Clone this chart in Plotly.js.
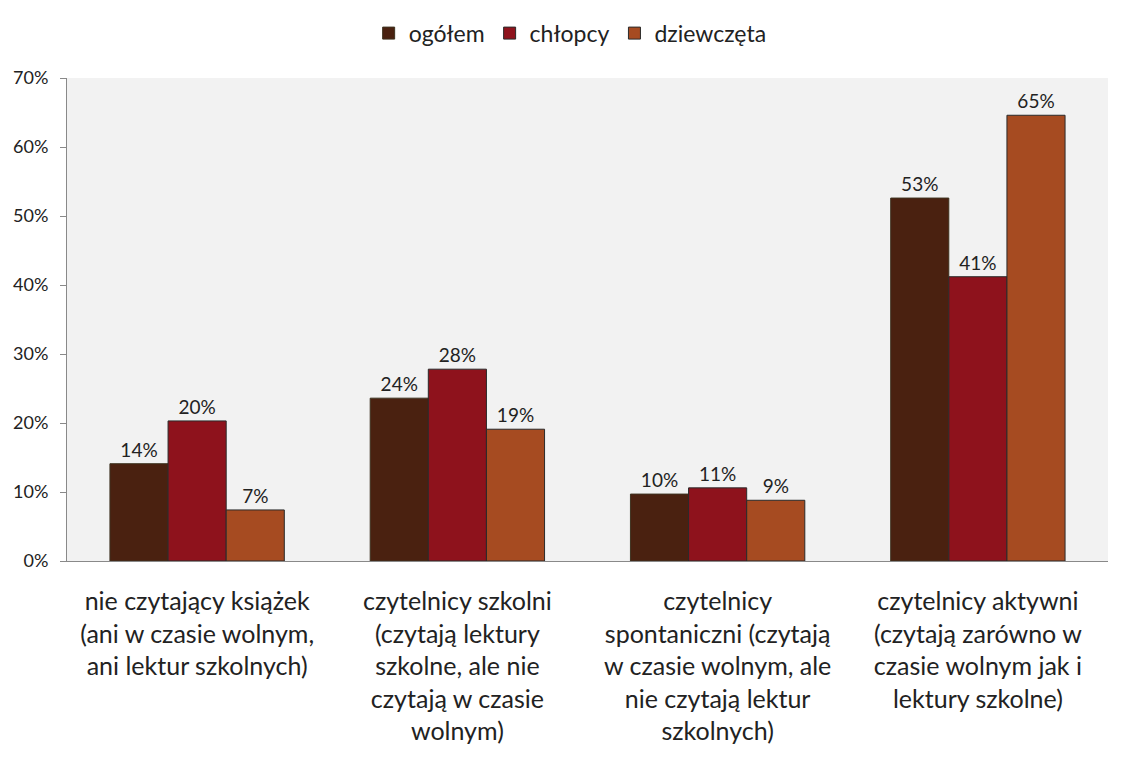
<!DOCTYPE html>
<html>
<head>
<meta charset="utf-8">
<script src="https://cdn.plot.ly/plotly-3.0.1.min.js"></script>
<style>html,body{margin:0;padding:0;background:#fff;}#chart{width:1129px;height:771px;}</style>
</head>
<body>
<div id="chart"></div>
<script>
const categories = [
  "nie czytający książek<br>(ani w czasie wolnym,<br>ani lektur szkolnych)",
  "czytelnicy szkolni<br>(czytają lektury<br>szkolne, ale nie<br>czytają w czasie<br>wolnym)",
  "czytelnicy<br>spontaniczni (czytają<br>w czasie wolnym, ale<br>nie czytają lektur<br>szkolnych)",
  "czytelnicy aktywni<br>(czytają zarówno w<br>czasie wolnym jak i<br>lektury szkolne)"
];
const seriesNames = ["ogółem", "chłopcy", "dziewczęta"];
const ogolem = [0.141, 0.236, 0.097, 0.526];
const chlopcy = [0.203, 0.278, 0.106, 0.412];
const dziewczeta = [0.074, 0.191, 0.088, 0.646];
const yTicks = [0, 0.1, 0.2, 0.3, 0.4, 0.5, 0.6, 0.7];

const colors = ["#4A2110", "#8E121C", "#A64B21"];
const lines = ["#3E3320", "#2A2A2A", "#2A2A2A"];
const values = [ogolem, chlopcy, dziewczeta];

const traces = values.map((v, i) => ({
  type: "bar",
  name: seriesNames[i],
  x: categories,
  y: v,
  marker: {color: colors[i], line: {color: lines[i], width: 1}},
  texttemplate: "%{y:.0%}",
  textposition: "outside",
  textfont: {size: 19, color: "#222", family: "Lato, 'Open Sans', sans-serif"},
  cliponaxis: false,
  hoverinfo: "skip"
}));

const layout = {
  width: 1129,
  height: 771,
  margin: {l: 67, r: 21, t: 78, b: 210},
  paper_bgcolor: "#ffffff",
  plot_bgcolor: "#F2F2F2",
  font: {family: "Lato, 'Open Sans', sans-serif", color: "#222"},
  barmode: "group",
  bargap: 0.33,
  bargroupgap: 0,
  showlegend: true,
  legend: {
    orientation: "h",
    x: 0.505, xanchor: "center", xref: "container",
    y: 0.957, yanchor: "middle", yref: "container",
    font: {size: 23, color: "#222"},
    itemwidth: 30,
    tracegroupgap: 0
  },
  xaxis: {
    type: "category",
    showline: true,
    linecolor: "#898989",
    linewidth: 1,
    ticks: "",
    ticklabelstandoff: 18,
    showgrid: false,
    tickfont: {size: 25, color: "#222"},
    fixedrange: true
  },
  yaxis: {
    range: [0, 0.7],
    tickvals: yTicks,
    tickformat: ".0%",
    showline: true,
    linecolor: "#898989",
    linewidth: 1,
    ticks: "outside",
    ticklen: 6,
    tickcolor: "#898989",
    ticklabelstandoff: 8,
    showgrid: false,
    zeroline: false,
    tickfont: {size: 18, color: "#222"},
    fixedrange: true
  }
};

Plotly.newPlot("chart", traces, layout, {displayModeBar: false, staticPlot: true});
</script>
</body>
</html>
